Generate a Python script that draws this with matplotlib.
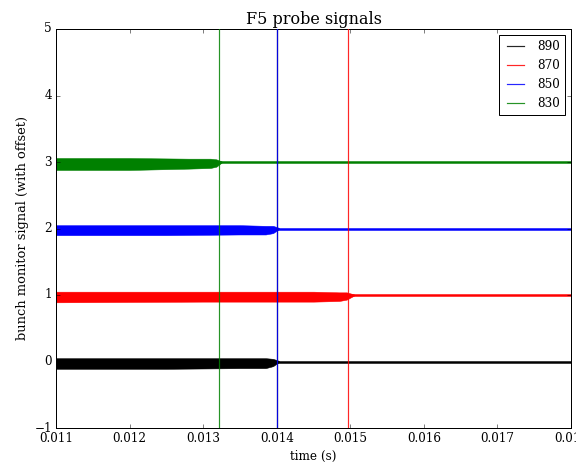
import matplotlib
matplotlib.use("Agg")
import matplotlib.pyplot as plt

plt.style.use('classic')
plt.rcParams['font.family'] = ['DejaVu Serif']
plt.rcParams['figure.facecolor'] = 'white'

labels = ['890', '870', '850', '830']
colors = ['black', 'red', 'blue', 'green']
offsets = [0, 1, 2, 3]
# times where the noisy part ends (vertical markers)
marker_times = [0.014, 0.01497, 0.014, 0.01322]

# noise envelopes (deviation from offset)
env_t = [
    [0.011, 0.0125, 0.0135, 0.01385, 0.01395, 0.01403],
    [0.011, 0.0130, 0.0145, 0.01485, 0.01495, 0.01505],
    [0.011, 0.0125, 0.0135, 0.01385, 0.01395, 0.01403],
    [0.011, 0.0120, 0.0128, 0.01310, 0.01318, 0.01325],
]
env_hi = [
    [0.05, 0.05, 0.05, 0.05, 0.04, 0.01],
    [0.05, 0.05, 0.05, 0.04, 0.04, 0.01],
    [0.05, 0.05, 0.05, 0.04, 0.04, 0.01],
    [0.06, 0.06, 0.05, 0.05, 0.04, 0.01],
]
env_lo = [
    [-0.11, -0.11, -0.10, -0.10, -0.07, -0.01],
    [-0.11, -0.10, -0.10, -0.09, -0.07, -0.01],
    [-0.10, -0.10, -0.09, -0.09, -0.07, -0.01],
    [-0.12, -0.12, -0.10, -0.09, -0.07, -0.01],
]
x_range = [0.011, 0.018]

fig = plt.figure(figsize=(8, 462 / 72), dpi=72)
ax = fig.add_axes([56 / 576, 1 - 428 / 462, (571 - 56) / 576, (428 - 29) / 462])

for i in range(4):
    ax.plot(x_range, [offsets[i], offsets[i]], color=colors[i], lw=2.5, zorder=2)
    ax.fill_between(env_t[i], [offsets[i] + v for v in env_lo[i]],
                    [offsets[i] + v for v in env_hi[i]], color=colors[i],
                    lw=0.5, zorder=2)

for i in range(4):
    ax.axvline(marker_times[i], color=colors[i], alpha=0.85, lw=1.2,
               label=labels[i], zorder=3 + i)

ax.set_xlim(0.011, 0.018)
ax.set_ylim(-1, 5)
ax.ticklabel_format(useOffset=False, axis='x')
ax.set_xticks([0.011, 0.012, 0.013, 0.014, 0.015, 0.016, 0.017, 0.018])
ax.set_title('F5 probe signals', fontsize=16)
ax.set_xlabel('time (s)', fontsize=12)
ax.set_ylabel('bunch monitor signal (with offset)', fontsize=13)
ax.tick_params(labelsize=12)
leg = ax.legend(loc='upper right', fontsize=12, fancybox=False, framealpha=1)
leg.get_frame().set_edgecolor('black')

fig.savefig('out.png', dpi=72, facecolor='white')
